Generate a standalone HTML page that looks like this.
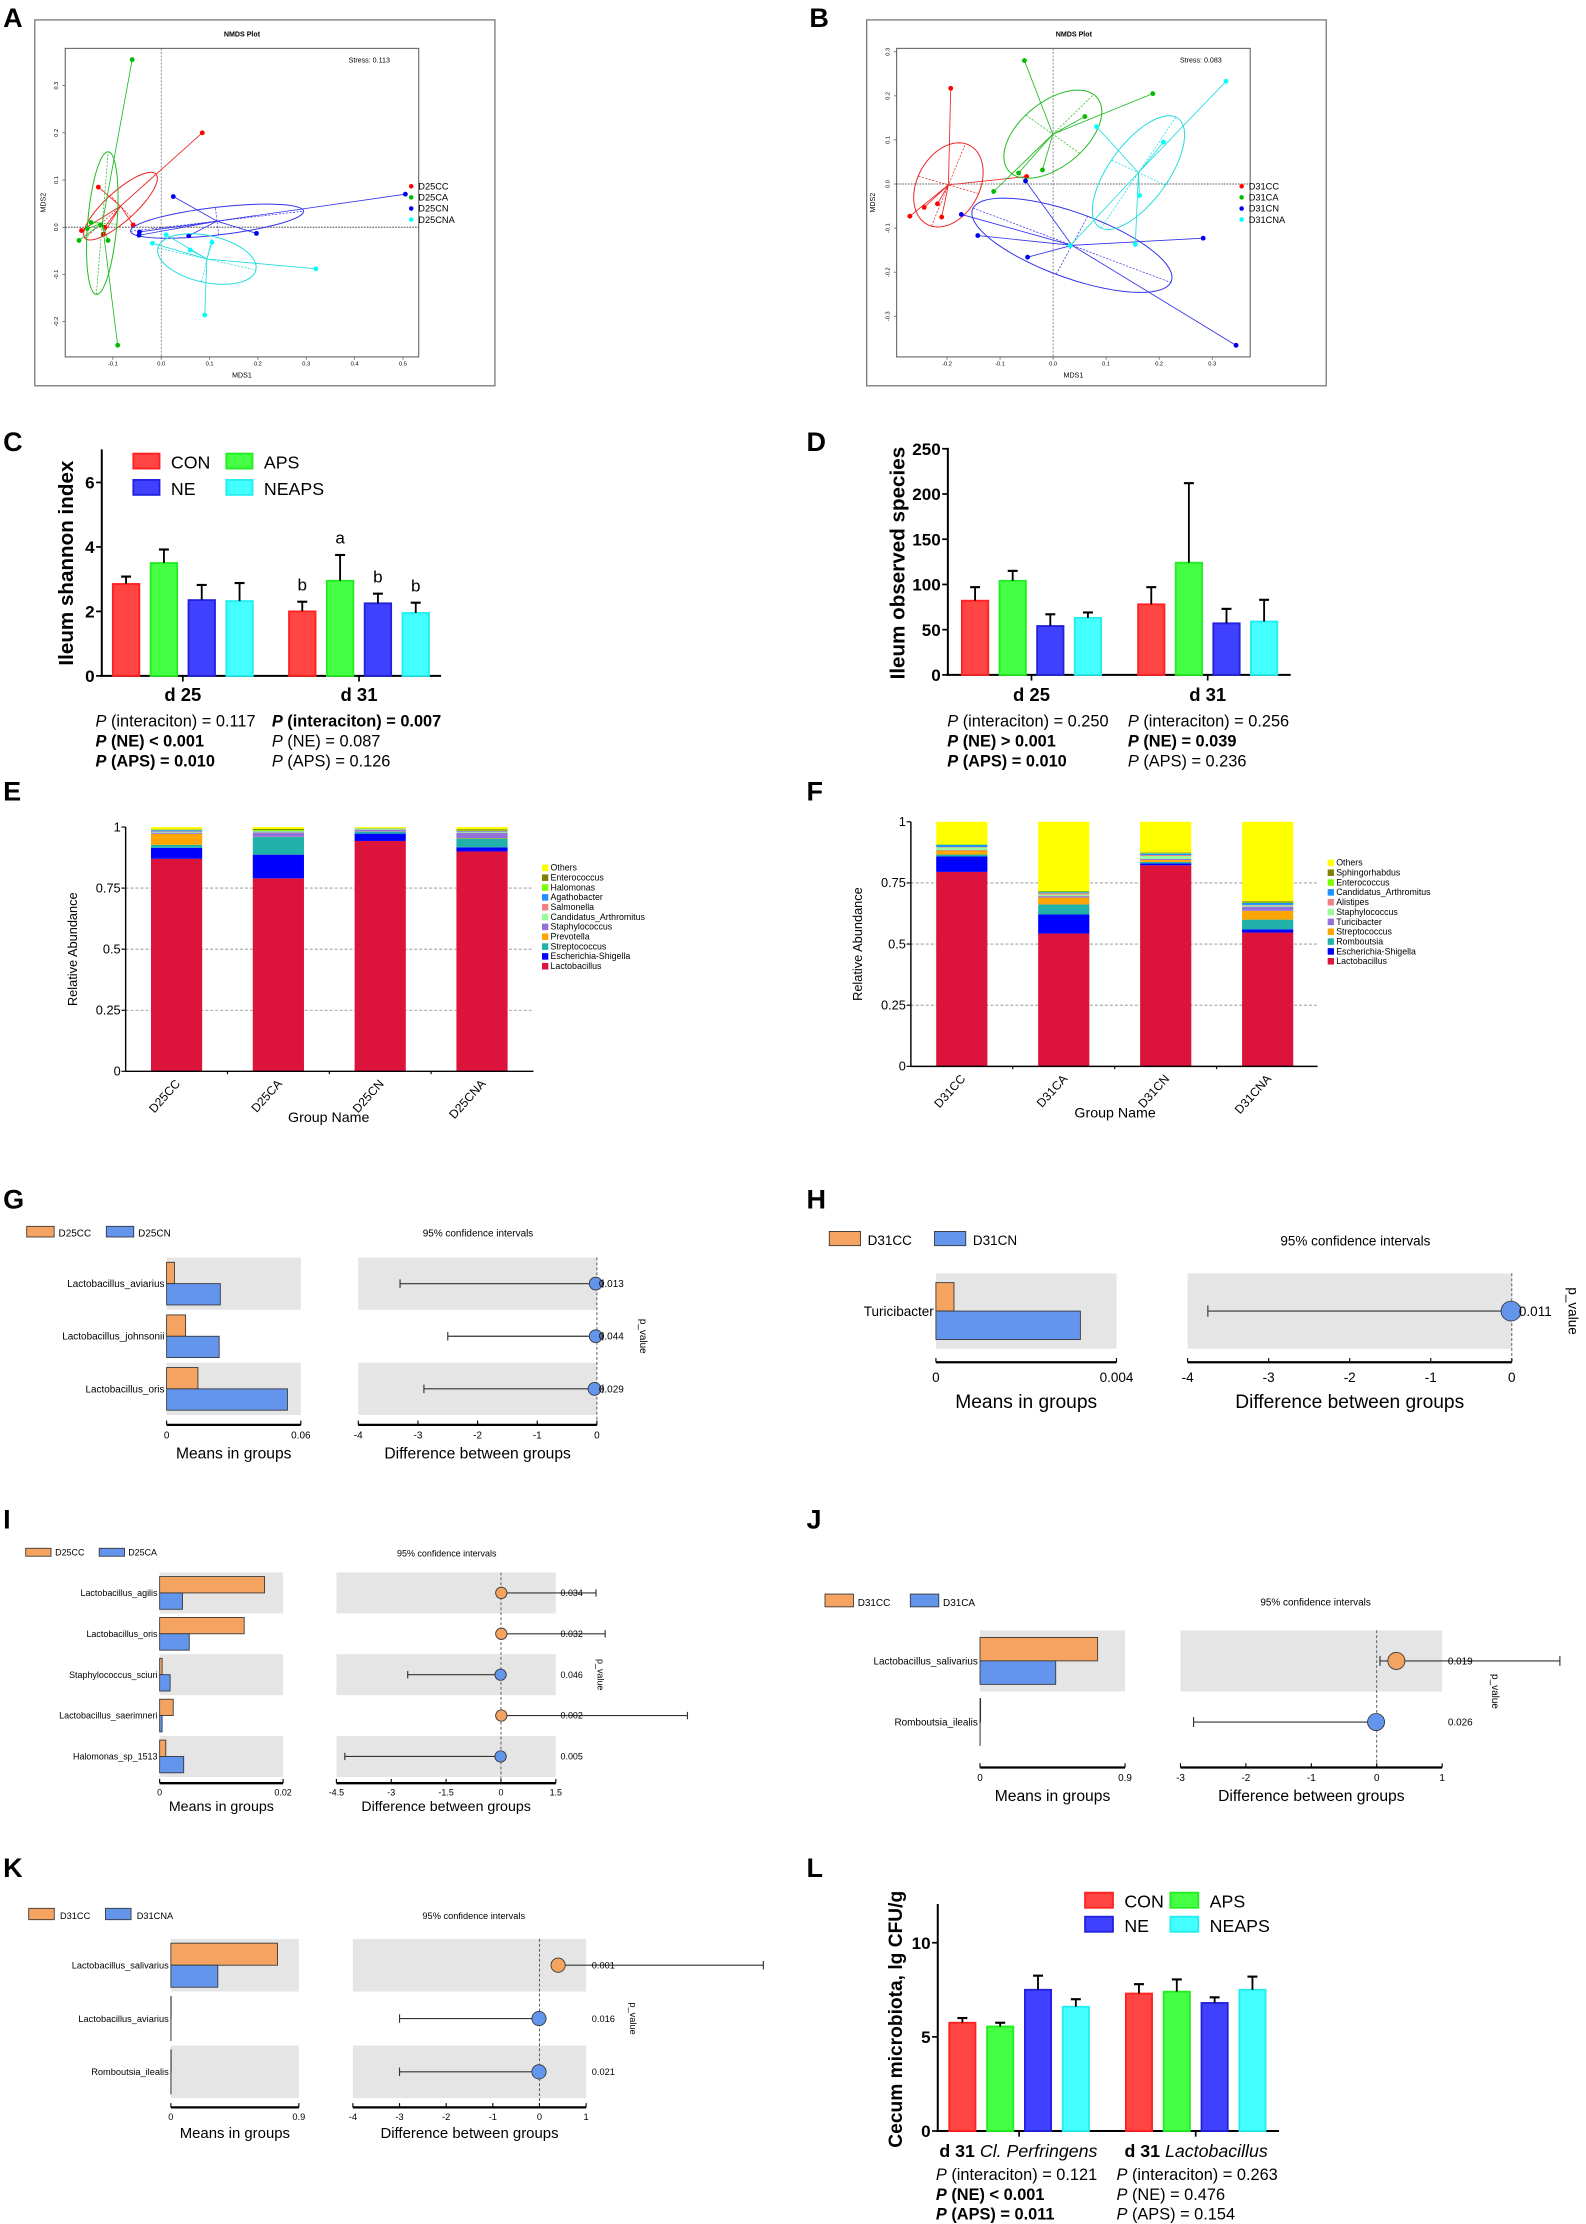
<!DOCTYPE html>
<html><head><meta charset="utf-8">
<style>
html,body{margin:0;padding:0;background:#fff}
svg{display:block}
text{font-family:"Liberation Sans",sans-serif;fill:#000}
.n{font-family:"Liberation Sans Narrow","Liberation Sans",sans-serif}
.lt{font-size:19px;font-weight:bold}
.pt{font-size:11.5px}
</style></head>
<body>
<svg id="fig" xmlns="http://www.w3.org/2000/svg" width="1586" height="2224" viewBox="0 0 1115 1564">
<rect x="0" y="0" width="1115" height="1564" fill="#fff"/>
<text class="lt" x="2" y="19">A</text>
<text class="lt" x="569" y="19">B</text>
<text class="lt" x="2" y="317">C</text>
<text class="lt" x="567" y="317">D</text>
<text class="lt" x="2" y="563">E</text>
<text class="lt" x="567" y="563">F</text>
<text class="lt" x="2" y="850">G</text>
<text class="lt" x="567" y="850">H</text>
<text class="lt" x="2" y="1075">I</text>
<text class="lt" x="567" y="1075">J</text>
<text class="lt" x="2" y="1320">K</text>
<text class="lt" x="567" y="1320">L</text>

<g>
<text class="n pt" x="67" y="511"><tspan font-style="italic">P</tspan> (interaciton) = 0.117</text>
<text class="n pt" x="67" y="525" font-weight="bold"><tspan font-style="italic">P</tspan> (NE) &lt; 0.001</text>
<text class="n pt" x="67" y="539" font-weight="bold"><tspan font-style="italic">P</tspan> (APS) = 0.010</text>
<text class="n pt" x="191" y="511" font-weight="bold"><tspan font-style="italic">P</tspan> (interaciton) = 0.007</text>
<text class="n pt" x="191" y="525"><tspan font-style="italic">P</tspan> (NE) = 0.087</text>
<text class="n pt" x="191" y="539"><tspan font-style="italic">P</tspan> (APS) = 0.126</text>
</g>
<g>
<text class="n pt" x="666" y="511"><tspan font-style="italic">P</tspan> (interaciton) = 0.250</text>
<text class="n pt" x="666" y="525" font-weight="bold"><tspan font-style="italic">P</tspan> (NE) &gt; 0.001</text>
<text class="n pt" x="666" y="539" font-weight="bold"><tspan font-style="italic">P</tspan> (APS) = 0.010</text>
<text class="n pt" x="793" y="511"><tspan font-style="italic">P</tspan> (interaciton) = 0.256</text>
<text class="n pt" x="793" y="525" font-weight="bold"><tspan font-style="italic">P</tspan> (NE) = 0.039</text>
<text class="n pt" x="793" y="539"><tspan font-style="italic">P</tspan> (APS) = 0.236</text>
</g>
<g>
<text class="n pt" x="658" y="1533"><tspan font-style="italic">P</tspan> (interaciton) = 0.121</text>
<text class="n pt" x="658" y="1547" font-weight="bold"><tspan font-style="italic">P</tspan> (NE) &lt; 0.001</text>
<text class="n pt" x="658" y="1561" font-weight="bold"><tspan font-style="italic">P</tspan> (APS) = 0.011</text>
<text class="n pt" x="785" y="1533"><tspan font-style="italic">P</tspan> (interaciton) = 0.263</text>
<text class="n pt" x="785" y="1547"><tspan font-style="italic">P</tspan> (NE) = 0.476</text>
<text class="n pt" x="785" y="1561"><tspan font-style="italic">P</tspan> (APS) = 0.154</text>
</g>
<text class="n" x="716" y="1517" font-size="12.5" text-anchor="middle"><tspan font-weight="bold">d 31 </tspan><tspan font-style="italic">Cl. Perfringens</tspan></text>
<text class="n" x="841" y="1517" font-size="12.5" text-anchor="middle"><tspan font-weight="bold">d 31 </tspan><tspan font-style="italic">Lactobacillus</tspan></text>
</svg>
<script>
// ---------- DATA ----------
const nmdsAGroups = ['D25CC','D25CA','D25CN','D25CNA'];
const nmdsA_CC_x = [-0.13,-0.165,-0.12,-0.117,-0.058,0.085];
const nmdsA_CC_y = [0.085,-0.007,-0.015,0.0,0.005,0.2];
const nmdsA_CA_x = [-0.06,-0.145,-0.153,-0.17,-0.11,-0.09,-0.125];
const nmdsA_CA_y = [0.355,0.01,-0.003,-0.028,-0.028,-0.25,0.005];
const nmdsA_CN_x = [0.025,-0.045,-0.046,0.057,0.197,0.505];
const nmdsA_CN_y = [0.065,-0.01,-0.017,-0.018,-0.013,0.07];
const nmdsA_CNA_x = [-0.018,0.01,0.06,0.105,0.09,0.32];
const nmdsA_CNA_y = [-0.034,-0.016,-0.048,-0.032,-0.186,-0.088];
const nmdsA_xTicks = [-0.1,0.0,0.1,0.2,0.3,0.4,0.5];
const nmdsA_yTicks = [-0.2,-0.1,0.0,0.1,0.2,0.3];
const nmdsBGroups = ['D31CC','D31CA','D31CN','D31CNA'];
const nmdsB_CC_x = [-0.193,-0.27,-0.243,-0.218,-0.21,-0.05];
const nmdsB_CC_y = [0.217,-0.073,-0.053,-0.045,-0.075,0.017];
const nmdsB_CA_x = [-0.054,0.188,0.06,-0.065,-0.02,-0.112];
const nmdsB_CA_y = [0.28,0.205,0.153,0.025,0.032,-0.017];
const nmdsB_CN_x = [-0.052,-0.173,-0.142,-0.048,0.283,0.345];
const nmdsB_CN_y = [0.007,-0.069,-0.117,-0.166,-0.123,-0.366];
const nmdsB_CNA_x = [0.082,0.208,0.163,0.155,0.326,0.032];
const nmdsB_CNA_y = [0.13,0.095,-0.026,-0.137,0.233,-0.14];
const nmdsB_xTicks = [-0.2,-0.1,0.0,0.1,0.2,0.3];
const nmdsB_yTicks = [-0.3,-0.2,-0.1,0.0,0.1,0.2,0.3];

const treatments = ['CON','APS','NE','NEAPS'];
const timeGroups = ['d 25','d 31'];
const shannonD25 = [2.85,3.5,2.35,2.32];
const shannonD25Err = [3.08,3.92,2.82,2.88];
const shannonD31 = [2.0,2.95,2.25,1.95];
const shannonD31Err = [2.3,3.75,2.55,2.27];
const shannonD31Letters = ['b','a','b','b'];
const shannonTicks = [0,2,4,6];
const obsD25 = [82,104,54,63];
const obsD25Err = [97,115,67,69];
const obsD31 = [78,124,57,59];
const obsD31Err = [97,212,73,83];
const obsTicks = [0,50,100,150,200,250];
const cecumGroups = ['Cl. Perfringens','Lactobacillus'];
const cecumCP = [5.75,5.55,7.5,6.6];
const cecumCPErr = [6.0,5.75,8.25,7.0];
const cecumLac = [7.3,7.4,6.8,7.5];
const cecumLacErr = [7.8,8.05,7.1,8.2];
const cecumTicks = [0,5,10];

const eSamples = ['D25CC','D25CA','D25CN','D25CNA'];
const eTaxa = ['Lactobacillus','Escherichia-Shigella','Streptococcus','Prevotella','Staphylococcus','Candidatus_Arthromitus','Salmonella','Agathobacter','Halomonas','Enterococcus','Others'];
const e_lactobacillus = [0.87,0.79,0.943,0.90];
const e_escherichia = [0.045,0.097,0.03,0.017];
const e_streptococcus = [0.012,0.072,0.008,0.036];
const e_prevotella = [0.045,0.001,0.001,0.002];
const e_staphylococcus = [0.005,0.018,0.006,0.022];
const e_candidatus = [0.003,0.004,0.002,0.003];
const e_salmonella = [0.002,0.001,0.001,0.002];
const e_agathobacter = [0.005,0.001,0.002,0.002];
const e_halomonas = [0.002,0.004,0.001,0.002];
const e_enterococcus = [0.002,0.004,0.001,0.005];
const e_others = [0.009,0.008,0.005,0.009];
const fSamples = ['D31CC','D31CA','D31CN','D31CNA'];
const fTaxa = ['Lactobacillus','Escherichia-Shigella','Romboutsia','Streptococcus','Turicibacter','Staphylococcus','Alistipes','Candidatus_Arthromitus','Enterococcus','Sphingorhabdus','Others'];
const f_lactobacillus = [0.795,0.543,0.822,0.547];
const f_escherichia = [0.063,0.078,0.008,0.013];
const f_romboutsia = [0.008,0.041,0.006,0.04];
const f_streptococcus = [0.017,0.028,0.008,0.036];
const f_turicibacter = [0.002,0.006,0.004,0.017];
const f_staphylococcus = [0.01,0.006,0.012,0.005];
const f_alistipes = [0.002,0.006,0.004,0.002];
const f_candidatus = [0.008,0.004,0.006,0.008];
const f_enterococcus = [0.002,0.003,0.002,0.002];
const f_sphingorhabdus = [0.001,0.002,0.002,0.005];
const f_others = [0.092,0.283,0.126,0.325];
const stackTicks = [0,0.25,0.5,0.75,1];
const stackTickLabels = ['0','0.25','0.5','0.75','1'];

const gSpecies = ['Lactobacillus_aviarius','Lactobacillus_johnsonii','Lactobacillus_oris'];
const gMeanCC = [0.0035,0.0085,0.014];
const gMeanCN = [0.024,0.0235,0.054];
const gDiff = [-0.02,-0.02,-0.04];
const gLo = [-3.3,-2.5,-2.9];
const gHi = [0.1,0.1,0.1];
const gP = ['0.013','0.044','0.029'];
const gMeanTicks = [0,0.06];
const gDiffTicks = [-4,-3,-2,-1,0];
const hSpecies = ['Turicibacter'];
const hMeanCC = [0.0004];
const hMeanCN = [0.0032];
const hDiff = [-0.01];
const hLo = [-3.75];
const hHi = [0.1];
const hP = ['0.011'];
const hMeanTicks = [0,0.004];
const hDiffTicks = [-4,-3,-2,-1,0];
const iSpecies = ['Lactobacillus_agilis','Lactobacillus_oris','Staphylococcus_sciuri','Lactobacillus_saerimneri','Halomonas_sp_1513'];
const iMeanCC = [0.017,0.0137,0.0004,0.0022,0.001];
const iMeanCA = [0.0037,0.0048,0.0017,0.0004,0.0039];
const iDiff = [0.01,0.01,-0.01,0.01,-0.01];
const iLo = [0,0,-2.55,0,-4.27];
const iHi = [2.6,2.85,0.1,5.1,0.1];
const iP = ['0.034','0.032','0.046','0.002','0.005'];
const iMeanTicks = [0,0.02];
const iDiffTicks = [-4.5,-3,-1.5,0,1.5];
const jSpecies = ['Lactobacillus_salivarius','Romboutsia_ilealis'];
const jMeanCC = [0.73,0.004];
const jMeanCA = [0.47,0.001];
const jDiff = [0.3,-0.01];
const jLo = [0.05,-2.8];
const jHi = [2.8,0.1];
const jP = ['0.019','0.026'];
const jMeanTicks = [0,0.9];
const jDiffTicks = [-3,-2,-1,0,1];
const kSpecies = ['Lactobacillus_salivarius','Lactobacillus_aviarius','Romboutsia_ilealis'];
const kMeanCC = [0.75,0.002,0.002];
const kMeanCNA = [0.33,0.001,0.001];
const kDiff = [0.4,-0.01,-0.01];
const kLo = [0.3,-3.0,-3.0];
const kHi = [4.8,0.05,0.05];
const kP = ['0.001','0.016','0.021'];
const kMeanTicks = [0,0.9];
const kDiffTicks = [-4,-3,-2,-1,0,1];

// ---------- HELPERS ----------
const NS = 'http://www.w3.org/2000/svg';
const svg = document.getElementById('fig');
function mk(parent, tag, attrs, name, text) {
  const el = document.createElementNS(NS, tag);
  for (const k in attrs) el.setAttribute(k, attrs[k]);
  
  
  if (text !== undefined) el.textContent = text;
  parent.appendChild(el);
  return el;
}
function grp(name) { return mk(svg, 'g', {}, name); }
function T(p, x, y, s, o, name) {
  o = o || {};
  const a = {x: x, y: y, 'font-size': o.size || 8};
  if (o.anchor) a['text-anchor'] = o.anchor;
  if (o.weight) a['font-weight'] = o.weight;
  if (o.style) a['font-style'] = o.style;
  if (o.cls) a['class'] = o.cls;
  if (o.fill) a.fill = o.fill;
  if (o.rot !== undefined) a.transform = 'rotate(' + o.rot + ' ' + x + ' ' + y + ')';
  return mk(p, 'text', a, name, s);
}
function L(p, x1, y1, x2, y2, stroke, w, name, dash) {
  const a = {x1: x1, y1: y1, x2: x2, y2: y2, stroke: stroke, 'stroke-width': w};
  if (dash) a['stroke-dasharray'] = dash;
  return mk(p, 'line', a, name);
}
function R(p, x, y, w, h, fill, name, stroke, sw) {
  const a = {x: x, y: y, width: Math.max(0, w), height: Math.max(0, h), fill: fill};
  if (stroke) { a.stroke = stroke; a['stroke-width'] = sw || 0.6; }
  return mk(p, 'rect', a, name);
}

// ---------- NMDS ----------
const nmdsColors = ['#ff0000','#00bb00','#0000ee','#00ffff'];
const nmdsLine = ['#ee2222','#22bb22','#3333ee','#22dddd'];
function nmds(id, c, names, xs, ys, xt, yt, stress) {
  const g = grp(id);
  const X = v => c.x0 + v * c.sx, Y = v => c.y0 - v * c.sy;
  R(g, c.fx, c.fy, c.fw, c.fh, '#fff', 'figure-frame', '#777', 0.9);
  T(g, c.tx, 25.5, 'NMDS Plot', {size: 5, weight: 'bold', anchor: 'middle'}, 'plot-title');
  R(g, c.px, c.py, c.pw, c.ph, 'none', 'plot-area', '#555', 0.7);
  L(g, X(0), c.py, X(0), c.py + c.ph, '#666', 0.5, 'zero-line-x', '1.5,1');
  L(g, c.px, Y(0), c.px + c.pw, Y(0), '#333', 0.6, 'zero-line-y', '1.2,0.8');
  xt.forEach(v => {
    L(g, X(v), c.py + c.ph, X(v), c.py + c.ph + 2, '#555', 0.5, 'x-tick');
    T(g, X(v), c.py + c.ph + 6, v.toFixed(1), {size: 4, anchor: 'middle', cls: 'n'}, 'x-tick-label');
  });
  yt.forEach(v => {
    L(g, c.px - 2, Y(v), c.px, Y(v), '#555', 0.5, 'y-tick');
    T(g, c.px - 5, Y(v), v.toFixed(1), {size: 4, anchor: 'middle', rot: -90, cls: 'n'}, 'y-tick-label');
  });
  T(g, c.px + c.pw / 2, 265.5, 'MDS1', {size: 5, anchor: 'middle', cls: 'n'}, 'x-axis-title');
  T(g, c.yl, c.py + c.ph / 2, 'MDS2', {size: 5, anchor: 'middle', rot: -90, cls: 'n'}, 'y-axis-title');
  T(g, c.stx, 44, 'Stress:  ' + stress, {size: 5, cls: 'n'}, 'stress-label');
  for (let k = 0; k < names.length; k++) {
    const gx = xs[k], gy = ys[k], n = gx.length;
    const col = nmdsColors[k], lc = nmdsLine[k];
    let mx = 0, my = 0;
    for (let i = 0; i < n; i++) { mx += gx[i]; my += gy[i]; }
    mx /= n; my /= n;
    let sxx = 0, syy = 0, sxy = 0;
    for (let i = 0; i < n; i++) { sxx += (gx[i]-mx)**2; syy += (gy[i]-my)**2; sxy += (gx[i]-mx)*(gy[i]-my); }
    sxx /= (n-1); syy /= (n-1); sxy /= (n-1);
    const tr = sxx + syy, det = sxx*syy - sxy*sxy;
    const disc = Math.sqrt(Math.max(0, tr*tr/4 - det));
    const l1 = tr/2 + disc, l2 = Math.max(0, tr/2 - disc);
    const th = 0.5 * Math.atan2(2*sxy, sxx - syy);
    const kf = 0.85, a = kf*Math.sqrt(l1), b = kf*Math.sqrt(l2);
    let d = '';
    for (let t = 0; t <= 64; t++) {
      const ang = t/64*2*Math.PI;
      const ex = mx + a*Math.cos(ang)*Math.cos(th) - b*Math.sin(ang)*Math.sin(th);
      const ey = my + a*Math.cos(ang)*Math.sin(th) + b*Math.sin(ang)*Math.cos(th);
      d += (t ? 'L' : 'M') + X(ex).toFixed(2) + ' ' + Y(ey).toFixed(2);
    }
    const eg = mk(g, 'g', {}, 'group-' + names[k]);
    mk(eg, 'path', {d: d, fill: 'none', stroke: lc, 'stroke-width': 0.7}, 'confidence-ellipse');
    L(eg, X(mx - a*Math.cos(th)), Y(my - a*Math.sin(th)), X(mx + a*Math.cos(th)), Y(my + a*Math.sin(th)), lc, 0.5, 'ellipse-major-axis', '1.5,1');
    L(eg, X(mx + b*Math.sin(th)), Y(my - b*Math.cos(th)), X(mx - b*Math.sin(th)), Y(my + b*Math.cos(th)), lc, 0.5, 'ellipse-minor-axis', '1.5,1');
    for (let i = 0; i < n; i++) {
      L(eg, X(mx), Y(my), X(gx[i]), Y(gy[i]), lc, 0.6, 'spider-line');
    }
    for (let i = 0; i < n; i++) {
      mk(eg, 'circle', {cx: X(gx[i]), cy: Y(gy[i]), r: 1.7, fill: col}, 'sample-point');
    }
    const ly = 131 + k*7.8;
    mk(g, 'circle', {cx: c.lgx, cy: ly, r: 1.6, fill: col}, 'legend-marker');
    T(g, c.lgx + 5, ly + 2.3, names[k], {size: 6.5, cls: 'n'}, 'legend-entry');
  }
}
nmds('nmds-a', {fx:24.3,fy:14,fw:323.6,fh:257.3,px:45.7,py:34,pw:248.6,ph:217,x0:113.2,sx:340,y0:159.8,sy:332,tx:170,yl:32,stx:245,lgx:289},
  nmdsAGroups, [nmdsA_CC_x,nmdsA_CA_x,nmdsA_CN_x,nmdsA_CNA_x], [nmdsA_CC_y,nmdsA_CA_y,nmdsA_CN_y,nmdsA_CNA_y], nmdsA_xTicks, nmdsA_yTicks, '0.113');
nmds('nmds-b', {fx:609.3,fy:14,fw:323.2,fh:257.3,px:630.4,py:34,pw:248.6,ph:217,x0:740.4,sx:373,y0:129.4,sy:310,tx:755,yl:615,stx:829.6,lgx:873},
  nmdsBGroups, [nmdsB_CC_x,nmdsB_CA_x,nmdsB_CN_x,nmdsB_CNA_x], [nmdsB_CC_y,nmdsB_CA_y,nmdsB_CN_y,nmdsB_CNA_y], nmdsB_xTicks, nmdsB_yTicks, '0.083');

// ---------- GROUPED BARS ----------
const barFill = ['#ff4444','#44ff44','#4040ff','#44ffff'];
const barStroke = ['#ff2222','#22ee22','#2222dd','#22eeee'];
const barNames = ['CON','APS','NE','NEAPS'];
function barChart(id, c, series, errs, ticks, groupLabels, letters) {
  const g = grp(id);
  const Y = v => c.base - v * c.unit;
  L(g, c.ax, c.top, c.ax, c.base, '#000', 1.4, 'y-axis-line');
  L(g, c.ax - 1, c.base, c.xEnd, c.base, '#000', 1.4, 'x-axis-line');
  ticks.forEach(v => {
    L(g, c.ax - 4, Y(v), c.ax, Y(v), '#000', 1.2, 'y-tick');
    T(g, c.ax - 5, Y(v) + 4.3, String(v), {size: 12, weight: 'bold', anchor: 'end', cls: 'n'}, 'y-tick-label');
  });
  for (let gi = 0; gi < series.length; gi++) {
    const gx0 = c.x0 + gi * c.gap;
    const gc = gx0 + 1.5 * c.step + c.w / 2;
    L(g, gc, c.base, gc, c.base + 4, '#000', 1.2, 'x-tick');
    if (groupLabels) T(g, gc, c.gly, groupLabels[gi], {size: 13, weight: 'bold', anchor: 'middle', cls: 'n'}, 'group-label');
    for (let b = 0; b < 4; b++) {
      const x = gx0 + b * c.step, v = series[gi][b], e = errs[gi][b];
      R(g, x + 0.6, Y(v), c.w - 1.2, c.base - Y(v), barFill[b], 'bar-' + barNames[b].toLowerCase(), barStroke[b], 1.3);
      const cx = x + c.w / 2;
      L(g, cx, Y(v), cx, Y(e), '#000', 1.3, 'error-bar');
      L(g, cx - 3.5, Y(e), cx + 3.5, Y(e), '#000', 1.5, 'error-cap');
      if (letters && letters[gi]) T(g, cx, Y(e) - 8, letters[gi][b], {size: 12, anchor: 'middle', cls: 'n'}, 'significance-letter');
    }
  }
  T(g, c.ylx, c.yly, c.ylabel, {size: c.ylsize || 14.5, weight: 'bold', anchor: 'middle', rot: -90}, 'y-axis-title');
  if (c.legend) {
    const lg = mk(g, 'g', {}, 'legend');
    const pos = [[0,0],[1,0],[0,1],[1,1]];
    for (let b = 0; b < 4; b++) {
      const lx = c.legend.x + pos[b][0] * c.legend.dx, ly = c.legend.y + pos[b][1] * c.legend.dy;
      R(lg, lx, ly, c.legend.w, c.legend.h, barFill[b], 'legend-swatch', barStroke[b], 1.3);
      T(lg, lx + c.legend.w + 8, ly + c.legend.h, barNames[b], {size: 12.5, cls: 'n'}, 'legend-entry');
    }
  }
}
barChart('shannon-chart', {ax:71.4, top:316, base:475.3, unit:22.67, xEnd:310, x0:78.6, gap:123.9, step:26.6, w:19.8, gly:493,
  ylx:51, yly:396, ylabel:'Ileum shannon index', legend:{x:93.6, y:319, dx:65.4, dy:18.5, w:18.4, h:10.5}},
  [shannonD25, shannonD31], [shannonD25Err, shannonD31Err], shannonTicks, timeGroups, [null, shannonD31Letters]);
barChart('observed-species-chart', {ax:666.4, top:315, base:474.6, unit:0.636, xEnd:907.5, x0:675.7, gap:123.9, step:26.45, w:19.7, gly:493,
  ylx:636, yly:396, ylabel:'Ileum observed species'},
  [obsD25, obsD31], [obsD25Err, obsD31Err], obsTicks, timeGroups, null);
barChart('cecum-chart', {ax:659.3, top:1339, base:1498.6, unit:13.24, xEnd:899.3, x0:666.8, gap:124.2, step:26.6, w:19.6, gly:null,
  ylx:634, yly:1420, ylsize:13.5, ylabel:'Cecum microbiota, lg CFU/g', legend:{x:762.9, y:1331, dx:60, dy:16.9, w:19.6, h:10.6}},
  [cecumCP, cecumLac], [cecumCPErr, cecumLacErr], cecumTicks, null, null);

// ---------- STACKED BARS ----------
const eColors = ['#dc143c','#0000ff','#20b2aa','#ffa500','#9370db','#98fb98','#f08080','#1e90ff','#7cfc00','#808000','#ffff00'];
const fColors = ['#dc143c','#0000ff','#20b2aa','#ffa500','#9370db','#98fb98','#f08080','#1e90ff','#7cfc00','#808000','#ffff00'];
function stacked(id, c, samples, taxa, colors, data) {
  const g = grp(id);
  const Y = v => c.base - v * (c.base - c.top);
  stackTicks.forEach(v => {
    if (v > 0 && v < 1) L(g, c.ax, Y(v), c.xEnd, Y(v), '#888', 0.6, 'gridline', '2,1.5');
  });
  for (let s = 0; s < samples.length; s++) {
    const cx = c.c0 + s * c.step;
    let acc = 0;
    for (let t = 0; t < taxa.length; t++) {
      const v = data[t][s];
      R(g, cx - c.w / 2, Y(acc + v), c.w, Y(acc) - Y(acc + v), colors[t], 'segment-' + taxa[t].toLowerCase());
      acc += v;
    }
    T(g, cx + 3, c.base + 9, samples[s], {size: 8.5, anchor: 'end', rot: -48, cls: 'n'}, 'x-tick-label');
    if (s < samples.length - 1) L(g, cx + c.step / 2, c.base, cx + c.step / 2, c.base + 2, '#000', 0.8, 'x-tick');
  }
  L(g, c.ax, c.top, c.ax, c.base, '#000', 1, 'y-axis-line');
  L(g, c.ax, c.base, c.xEnd, c.base, '#000', 1, 'x-axis-line');
  stackTicks.forEach((v, i) => {
    L(g, c.ax - 3, Y(v), c.ax, Y(v), '#000', 0.8, 'y-tick');
    T(g, c.ax - 3.5, Y(v) + 3, stackTickLabels[i], {size: 9, anchor: 'end', cls: 'n'}, 'y-tick-label');
  });
  T(g, c.ylx, (c.top + c.base) / 2, 'Relative Abundance', {size: 9, anchor: 'middle', rot: -90}, 'y-axis-title');
  T(g, c.gnx, c.gny, 'Group Name', {size: 10, anchor: 'middle', cls: 'n'}, 'x-axis-title');
  for (let t = taxa.length - 1; t >= 0; t--) {
    const row = taxa.length - 1 - t;
    const ly = c.ly + row * 6.92;
    R(g, c.lx, ly - 2.4, 4.4, 4.6, colors[t], 'legend-swatch');
    T(g, c.lx + 6, ly + 1.9, taxa[t], {size: 6.2, cls: 'n'}, 'legend-entry');
  }
}
stacked('abundance-d25', {ax:88.2, top:581.6, base:753.4, xEnd:375, c0:124, step:71.6, w:36, ylx:54, gnx:231, gny:789, lx:381, ly:610.4},
  eSamples, eTaxa, eColors, [e_lactobacillus,e_escherichia,e_streptococcus,e_prevotella,e_staphylococcus,e_candidatus,e_salmonella,e_agathobacter,e_halomonas,e_enterococcus,e_others]);
stacked('abundance-d31', {ax:640.4, top:577.9, base:749.9, xEnd:926.4, c0:676.2, step:71.7, w:36, ylx:606, gnx:784, gny:786, lx:933.5, ly:606.9},
  fSamples, fTaxa, fColors, [f_lactobacillus,f_escherichia,f_romboutsia,f_streptococcus,f_turicibacter,f_staphylococcus,f_alistipes,f_candidatus,f_enterococcus,f_sphingorhabdus,f_others]);

// ---------- EXTENDED ERROR BAR (STAMP) ----------
const cOrange = '#f4a460', cBlue = '#6495ed';
function stamp(id, c, names, species, mA, mB, diff, lo, hi, pv, mTicks, dTicks) {
  const g = grp(id);
  const lg = mk(g, 'g', {}, 'legend');
  R(lg, c.lg[0], c.lg[1], c.lg[2], c.lg[3], cOrange, 'legend-swatch-a', '#333', 0.6);
  T(lg, c.lg[4], c.lg[1] + c.lg[3] - 0.5, names[0], {size: c.fs, cls: 'n'}, 'legend-entry');
  R(lg, c.lg[5], c.lg[1], c.lg[2], c.lg[3], cBlue, 'legend-swatch-b', '#333', 0.6);
  T(lg, c.lg[6], c.lg[1] + c.lg[3] - 0.5, names[1], {size: c.fs, cls: 'n'}, 'legend-entry');
  T(g, c.tx, c.ty, '95% confidence intervals', {size: c.fs, anchor: 'middle', cls: 'n'}, 'ci-title');
  const LX = v => c.lx + v / mTicks[mTicks.length - 1] * c.lw;
  const d0 = dTicks[0], d1 = dTicks[dTicks.length - 1];
  const RX = v => c.rx + (v - d0) / (d1 - d0) * c.rw;
  const n = species.length;
  const rowY = i => c.ry + i * c.rs;
  for (let i = 0; i < n; i++) {
    if (i % 2 === 0) {
      R(g, c.lx, rowY(i) - c.bh, c.lw, 2 * c.bh, '#e5e5e5', 'row-band-left');
      R(g, c.rx, rowY(i) - c.bh, c.rw, 2 * c.bh, '#e5e5e5', 'row-band-right');
    }
  }
  const top = rowY(0) - c.bh, bot = rowY(n - 1) + c.bh;
  L(g, RX(0), top, RX(0), c.ay, '#444', 0.6, 'zero-line', '2,1.5');
  for (let i = 0; i < n; i++) {
    const y = rowY(i);
    R(g, c.lx, y - c.bar, LX(mA[i]) - c.lx, c.bar, cOrange, 'mean-bar-a', '#333', 0.6);
    R(g, c.lx, y, LX(mB[i]) - c.lx, c.bar, cBlue, 'mean-bar-b', '#333', 0.6);
    T(g, c.lx - 1.5, y + c.fs * 0.35, species[i], {size: c.fs, anchor: 'end', cls: 'n'}, 'species-label');
    L(g, RX(lo[i]), y, RX(hi[i]), y, '#333', 0.8, 'ci-line');
    L(g, RX(lo[i]), y - c.cap, RX(lo[i]), y + c.cap, '#333', 0.8, 'ci-cap-low');
    L(g, RX(hi[i]), y - c.cap, RX(hi[i]), y + c.cap, '#333', 0.8, 'ci-cap-high');
    mk(g, 'circle', {cx: RX(diff[i]), cy: y, r: c.cr, fill: diff[i] >= 0 ? cOrange : cBlue, stroke: '#333', 'stroke-width': 0.6}, 'effect-point');
    T(g, c.px, y + c.fs * 0.35, pv[i], {size: c.fs, cls: 'n'}, 'p-value-label');
  }
  T(g, c.pvx, (top + bot) / 2, 'p_value', {size: c.fs, anchor: 'middle', rot: 90, cls: 'n'}, 'p-value-axis-title');
  L(g, c.lx, c.ay, c.lx + c.lw, c.ay, '#000', 1.6, 'means-axis');
  mTicks.forEach(v => {
    L(g, LX(v), c.ay, LX(v), c.ay - 3, '#000', 0.8, 'means-tick');
    T(g, LX(v), c.tly, String(v), {size: c.fs, anchor: 'middle', cls: 'n'}, 'means-tick-label');
  });
  L(g, c.rx, c.ay, c.rx + c.rw, c.ay, '#000', 1.6, 'diff-axis');
  dTicks.forEach(v => {
    L(g, RX(v), c.ay, RX(v), c.ay - 3, '#000', 0.8, 'diff-tick');
    T(g, RX(v), c.tly, String(v), {size: c.fs, anchor: 'middle', cls: 'n'}, 'diff-tick-label');
  });
  T(g, c.lx + c.lw / 2, c.aty, 'Means in groups', {size: c.afs, anchor: 'middle', cls: 'n'}, 'means-axis-title');
  T(g, c.rx + c.rw / 2, c.aty, 'Difference between groups', {size: c.afs, anchor: 'middle', cls: 'n'}, 'diff-axis-title');
}
stamp('stamp-g', {lg:[18.6,862.4,19.3,7.5,41,74.6,97], tx:336, ty:869.5, fs:7, afs:11,
  lx:117, lw:94.4, rx:251.8, rw:167.8, ry:902.7, rs:37, bh:18.4, bar:15, cap:3, cr:4.5,
  ay:1002, tly:1011.5, aty:1025.5, px:421, pvx:450}, ['D25CC','D25CN'],
  gSpecies, gMeanCC, gMeanCN, gDiff, gLo, gHi, gP, gMeanTicks, gDiffTicks);
stamp('stamp-h', {lg:[583,866,22,10,610,657,684], tx:953, ty:876, fs:9.5, afs:13.5,
  lx:658, lw:127, rx:835, rw:228, ry:922, rs:0, bh:26.5, bar:20, cap:4, cr:7,
  ay:958, tly:972, aty:990, px:1068, pvx:1103}, ['D31CC','D31CN'],
  hSpecies, hMeanCC, hMeanCN, hDiff, hLo, hHi, hP, hMeanTicks, hDiffTicks);
stamp('stamp-i', {lg:[17.9,1088.8,17.8,5.6,38.6,69.6,90], tx:314, ty:1094.5, fs:6.3, afs:10,
  lx:112.1, lw:86.8, rx:236.4, rw:154.3, ry:1120.2, rs:28.75, bh:14.4, bar:11.5, cap:2.6, cr:4,
  ay:1254, tly:1262.5, aty:1273.5, px:394, pvx:420}, ['D25CC','D25CA'],
  iSpecies, iMeanCC, iMeanCA, iDiff, iLo, iHi, iP, iMeanTicks, iDiffTicks);
stamp('stamp-j', {lg:[580,1121,20,9,603,640,663], tx:925, ty:1129, fs:7, afs:11,
  lx:689, lw:102, rx:830, rw:184, ry:1168, rs:43, bh:21.5, bar:16.5, cap:3.5, cr:6,
  ay:1243, tly:1252.5, aty:1266.5, px:1018, pvx:1049}, ['D31CC','D31CA'],
  jSpecies, jMeanCC, jMeanCA, jDiff, jLo, jHi, jP, jMeanTicks, jDiffTicks);
stamp('stamp-k', {lg:[20,1342,18,8,42,74,96], tx:333, ty:1349.5, fs:6.5, afs:10.5,
  lx:120, lw:90, rx:248, rw:164, ry:1382, rs:37.5, bh:18.5, bar:15.5, cap:3, cr:5,
  ay:1482, tly:1491, aty:1503.5, px:416, pvx:443}, ['D31CC','D31CNA'],
  kSpecies, kMeanCC, kMeanCNA, kDiff, kLo, kHi, kP, kMeanTicks, kDiffTicks);
</script>
</body></html>
